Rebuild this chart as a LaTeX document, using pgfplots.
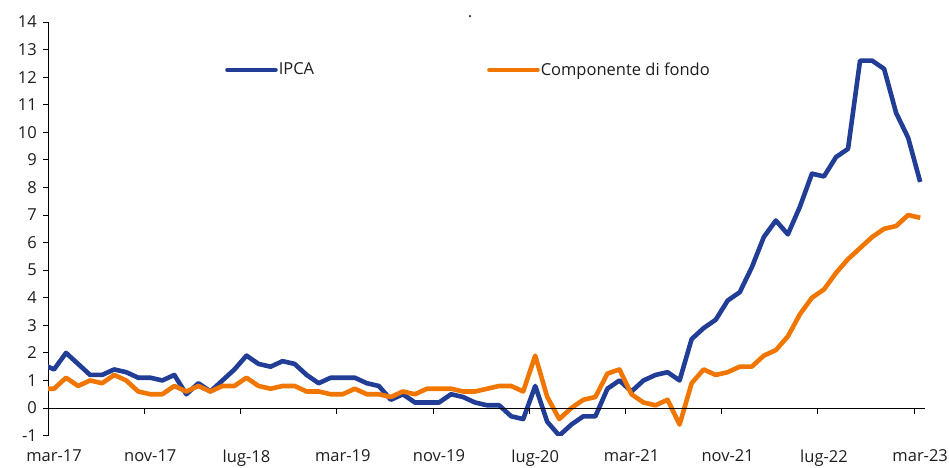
\documentclass[border=0pt]{standalone}
\usepackage{pgfplots}
\usepackage{pgfplotstable}
\pgfplotsset{compat=1.18}
\usepackage{fontspec}
\setmainfont{Open Sans}
\definecolor{ipca}{RGB}{33,61,150}
\definecolor{fondo}{RGB}{240,118,0}
\definecolor{testo}{RGB}{30,30,30}

% x = mesi da mar-17 (dati a meta' mese), ipca e componente di fondo (var. % a/a)
\pgfplotstableread{
x ipca fondo
-0.5 1.6 0.7
0.5 1.4 0.7
1.5 2.0 1.1
2.5 1.6 0.8
3.5 1.2 1.0
4.5 1.2 0.9
5.5 1.4 1.2
6.5 1.3 1.0
7.5 1.1 0.6
8.5 1.1 0.5
9.5 1.0 0.5
10.5 1.2 0.8
11.5 0.5 0.6
12.5 0.9 0.8
13.5 0.6 0.6
14.5 1.0 0.8
15.5 1.4 0.8
16.5 1.9 1.1
17.5 1.6 0.8
18.5 1.5 0.7
19.5 1.7 0.8
20.5 1.6 0.8
21.5 1.2 0.6
22.5 0.9 0.6
23.5 1.1 0.5
24.5 1.1 0.5
25.5 1.1 0.7
26.5 0.9 0.5
27.5 0.8 0.5
28.5 0.3 0.4
29.5 0.5 0.6
30.5 0.2 0.5
31.5 0.2 0.7
32.5 0.2 0.7
33.5 0.5 0.7
34.5 0.4 0.6
35.5 0.2 0.6
36.5 0.1 0.7
37.5 0.1 0.8
38.5 -0.3 0.8
39.5 -0.4 0.6
40.5 0.8 1.9
41.5 -0.5 0.4
42.5 -1.0 -0.4
43.5 -0.6 0.0
44.5 -0.3 0.3
45.5 -0.3 0.4
46.5 0.7 1.25
47.5 1.0 1.4
48.5 0.6 0.5
49.5 1.0 0.2
50.5 1.2 0.1
51.5 1.3 0.3
52.5 1.0 -0.6
53.5 2.5 0.9
54.5 2.9 1.4
55.5 3.2 1.2
56.5 3.9 1.3
57.5 4.2 1.5
58.5 5.1 1.5
59.5 6.2 1.9
60.5 6.8 2.1
61.5 6.3 2.6
62.5 7.3 3.4
63.5 8.5 4.0
64.5 8.4 4.3
65.5 9.1 4.9
66.5 9.4 5.4
67.5 12.6 5.8
68.5 12.6 6.2
69.5 12.3 6.5
70.5 10.7 6.6
71.5 9.8 7.0
72.5 8.2 6.9
}\datatable

\begin{document}
\fontsize{16.5}{20}\selectfont
\begin{tikzpicture}[x=1pt,y=1pt]
\useasboundingbox (0,0) rectangle (949,467);
\node[testo, anchor=base, inner sep=0pt, font=\fontsize{16.5}{20}\selectfont] at (470,449) {.};
\begin{axis}[
  at={(48pt,31.4pt)}, anchor=south west,
  width=877pt, height=413.6pt, scale only axis,
  xmin=0, xmax=72.9, ymin=-1, ymax=14,
  axis y line*=left, axis x line*=bottom,
  x axis line style={draw=none},
  axis line style={black, line width=0.9pt},
  ytick={-1,0,...,14},
  xtick={0.5,8.5,16.5,24.5,32.5,40.5,48.5,56.5,64.5,72.5},
  xticklabels={mar-17,nov-17,lug-18,mar-19,nov-19,lug-20,mar-21,nov-21,lug-22,mar-23},
  xtick style={draw=none},
  ytick style={black, line width=0.9pt},
  tick align=outside, major tick length=5pt,
  /pgf/number format/assume math mode=true,
  tick label style={text=testo, font=\fontsize{16.5}{20}\selectfont},
  yticklabel style={inner sep=0pt, xshift=-6pt},
  xticklabel style={inner sep=0pt, yshift=-9pt},
  legend columns=2,
  legend style={draw=none, fill=none, inner sep=0pt,
    at={(0.2018,0.884)}, anchor=west,
    font=\fontsize{16.5}{20}\selectfont, text=testo,
    nodes={inner sep=1pt},
    /tikz/every even column/.append style={column sep=172pt}},
  legend image code/.code={\draw[#1, line cap=round] (0pt,0pt) -- (48pt,0pt);},
]
\addplot[ipca, line width=4.6pt, line join=round] table[x=x, y=ipca] {\datatable};
\addlegendentry{IPCA}
\addplot[fondo, line width=4.6pt, line join=round] table[x=x, y=fondo] {\datatable};
\addlegendentry{Componente di fondo}
\draw[black, line width=0.9pt] (axis cs:0,0) -- (axis cs:72.9,0);
\pgfplotsinvokeforeach{0,8,16,24,32,40,48,56,64,72}{
  \draw[black, line width=0.9pt] (axis cs:#1,0) -- ++(0pt,-5.5pt);
}
\end{axis}
\end{tikzpicture}
\end{document}
